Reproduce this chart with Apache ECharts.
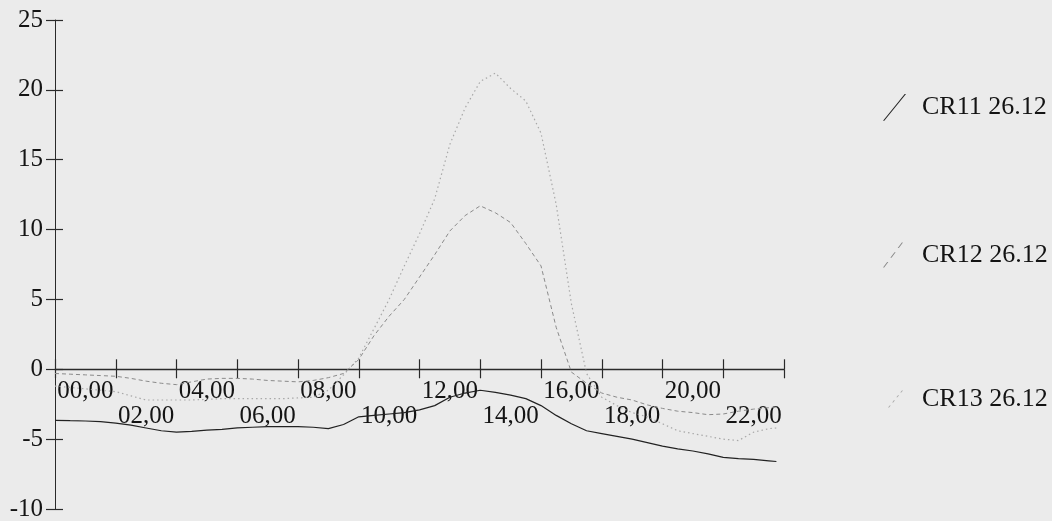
<!DOCTYPE html>
<html>
<head>
<meta charset="utf-8">
<script src="https://cdn.jsdelivr.net/npm/echarts@6/dist/echarts.min.js"></script>
<style>
  html, body { margin: 0; padding: 0; background: #ebebeb; }
  #main { width: 1052px; height: 521px; }
</style>
</head>
<body>
<div id="main"></div>
<script>
/*********
 * CR11 / CR12 / CR13  26.12
 * hours  : time of day (h)
 * values
 * ******************/
var hourLabels = ["00,00","02,00","04,00","06,00","08,00","10,00","12,00","14,00","16,00","18,00","20,00","22,00"];

var hours = [0,0.5,1,1.5,2,2.5,3,3.5,4,4.5,5,5.5,6,6.5,7,7.5,8,8.5,9,9.5,10,10.5,11,11.5,
             12,12.5,13,13.5,14,14.5,15,15.5,16,16.5,17,17.5,18,18.5,19,19.5,20,20.5,21,21.5,22,22.5,23,23.5,23.75];

var cr11 = [-3.65,-3.68,-3.7,-3.75,-3.85,-4.0,-4.2,-4.4,-4.5,-4.45,-4.35,-4.3,-4.2,-4.15,-4.1,-4.1,-4.1,-4.15,-4.25,-3.95,-3.4,-3.3,-3.2,-3.1,
            -2.9,-2.6,-2.0,-1.7,-1.5,-1.65,-1.85,-2.1,-2.6,-3.3,-3.9,-4.4,-4.6,-4.8,-5.0,-5.25,-5.5,-5.7,-5.85,-6.05,-6.3,-6.4,-6.45,-6.55,-6.6];

var cr12 = [-0.3,-0.35,-0.4,-0.45,-0.5,-0.65,-0.85,-1.0,-1.1,-0.9,-0.7,-0.65,-0.65,-0.7,-0.8,-0.85,-0.9,-0.8,-0.6,-0.3,0.7,2.4,3.8,5.0,
            6.6,8.2,9.9,11.0,11.7,11.2,10.5,9.0,7.4,3.0,-0.2,-1.0,-1.7,-2.0,-2.2,-2.55,-2.8,-3.0,-3.1,-3.25,-3.2,-3.0,-2.85,-2.75,-2.7];

var cr13 = [-1.2,-1.3,-1.4,-1.5,-1.6,-1.9,-2.2,-2.2,-2.2,-2.2,-2.15,-2.1,-2.1,-2.1,-2.1,-2.1,-2.05,-2.0,-1.5,-0.4,0.8,2.9,5.0,7.4,
            9.7,12.2,16.1,18.7,20.6,21.2,20.1,19.2,16.9,11.8,4.7,-0.3,-2.0,-2.6,-3.1,-3.4,-3.9,-4.4,-4.6,-4.8,-5.0,-5.1,-4.5,-4.25,-4.2];

var seriesNames = ["CR11 26.12","CR12 26.12","CR13 26.12"];

var Y_MIN = -10, Y_MAX = 25;
var GRID_TOP = 20, GRID_BOTTOM = 12, CHART_H = 521;

function pairs(vals){
	var out = [];
	for (var i = 0; i < hours.length; i++) out.push([hours[i], vals[i]]);
	return out;
}

// diagonal legend icon, drawn as small parallelograms (solid / dashed / dotted)
function diagIcon(w, h, segs, thick){
	var p = "path://";
	for (var i = 0; i < segs.length; i++) {
		var a = segs[i][0], b = segs[i][1];
		var x1 = w*a, y1 = h*(1-a), x2 = w*b, y2 = h*(1-b);
		p += "M"+x1+","+y1+"L"+x2+","+y2+"L"+(x2+thick)+","+y2+"L"+(x1+thick)+","+y1+"Z";
	}
	return p;
}

var FONT = "'Liberation Serif','Times New Roman',serif";
var txtColor = "#141414";
var axisColor = "#2a2a2a";

// label axis sits on the zero line: shift it up from the grid bottom
var plotH = CHART_H - GRID_TOP - GRID_BOTTOM;
var zeroShift = -plotH * (0 - Y_MIN) / (Y_MAX - Y_MIN);

function legendAt(name, top, left, w, h, icon, color, pad){
	return {
		top: top, left: left, orient: "vertical",
		itemWidth: w, itemHeight: h,
		data: [{ name: name, icon: icon, itemStyle: { color: color, borderWidth: 0 } }],
		textStyle: { fontFamily: FONT, fontSize: 26, color: txtColor, padding: [0,0,0,pad] }
	};
}

var chart = echarts.init(document.getElementById("main"));

chart.setOption({
	backgroundColor: "#ebebeb",
	animation: false,
	grid: { left: 55, right: 268, top: GRID_TOP, bottom: GRID_BOTTOM, containLabel: false, outerBoundsMode: "none" },
	legend: [
		legendAt(seriesNames[0], 89, 878, 23, 27, diagIcon(22, 27, [[0,1]], 1.3), "#222", 11),
		legendAt(seriesNames[1], 237, 878, 20, 25, diagIcon(19, 25, [[0,0.22],[0.39,0.61],[0.78,1]], 1.2), "#8a8a8a", 14),
		legendAt(seriesNames[2], 381, 883, 15, 17, diagIcon(14, 17, [[0,0.12],[0.3,0.42],[0.6,0.72],[0.88,1]], 1.1), "#a8a8a8", 14)
	],
	xAxis: [
		{   // data axis, hours 0..24, inside ticks
			type: "value", position: "bottom", min: 0, max: 24, interval: 2,
			axisLine: { onZero: true, onZeroAxisIndex: 0, lineStyle: { color: axisColor, width: 1.3 } },
			axisTick: { inside: true, length: 10, lineStyle: { color: axisColor, width: 1.2 } },
			axisLabel: { show: false },
			splitLine: { show: false }
		},
		{   // labels centred between ticks, alternating rows
			type: "category", position: "bottom", offset: zeroShift, data: hourLabels, boundaryGap: true,
			axisLine: { show: false, onZero: false },
			axisTick: { show: true, inside: false, length: 9, lineStyle: { color: axisColor, width: 1.2 } },
			axisLabel: {
				interval: 0, margin: 10, fontFamily: FONT, fontSize: 25, color: txtColor, lineHeight: 25,
				formatter: function(v, i){ return i % 2 ? "\n" + v : v; }
			},
			splitLine: { show: false }
		}
	],
	yAxis: [
		{
			type: "value", position: "left", min: Y_MIN, max: Y_MAX, interval: 5,
			axisLine: { show: true, onZero: false, lineStyle: { color: axisColor, width: 1 } },
			axisTick: { show: true, inside: false, length: 9, lineStyle: { color: axisColor, width: 1.2 } },
			axisLabel: { margin: 12, fontFamily: FONT, fontSize: 25, color: txtColor },
			splitLine: { show: false }
		},
		{
			type: "value", position: "left", min: Y_MIN, max: Y_MAX, interval: 5,
			axisLine: { show: false, onZero: false },
			axisTick: { show: true, inside: true, length: 8, lineStyle: { color: axisColor, width: 1.2 } },
			axisLabel: { show: false },
			splitLine: { show: false }
		}
	],
	series: [
		{ name: seriesNames[0], type: "line", xAxisIndex: 0, yAxisIndex: 0, showSymbol: false, data: pairs(cr11),
		  color: "#222", lineStyle: { color: "#222", width: 1.2, type: "solid" } },
		{ name: seriesNames[1], type: "line", xAxisIndex: 0, yAxisIndex: 0, showSymbol: false, data: pairs(cr12),
		  color: "#8a8a8a", lineStyle: { color: "#8a8a8a", width: 1, type: [4, 3] } },
		{ name: seriesNames[2], type: "line", xAxisIndex: 0, yAxisIndex: 0, showSymbol: false, data: pairs(cr13),
		  color: "#a8a8a8", lineStyle: { color: "#a8a8a8", width: 1.2, type: [1.5, 3] } }
	]
});
</script>
</body>
</html>
